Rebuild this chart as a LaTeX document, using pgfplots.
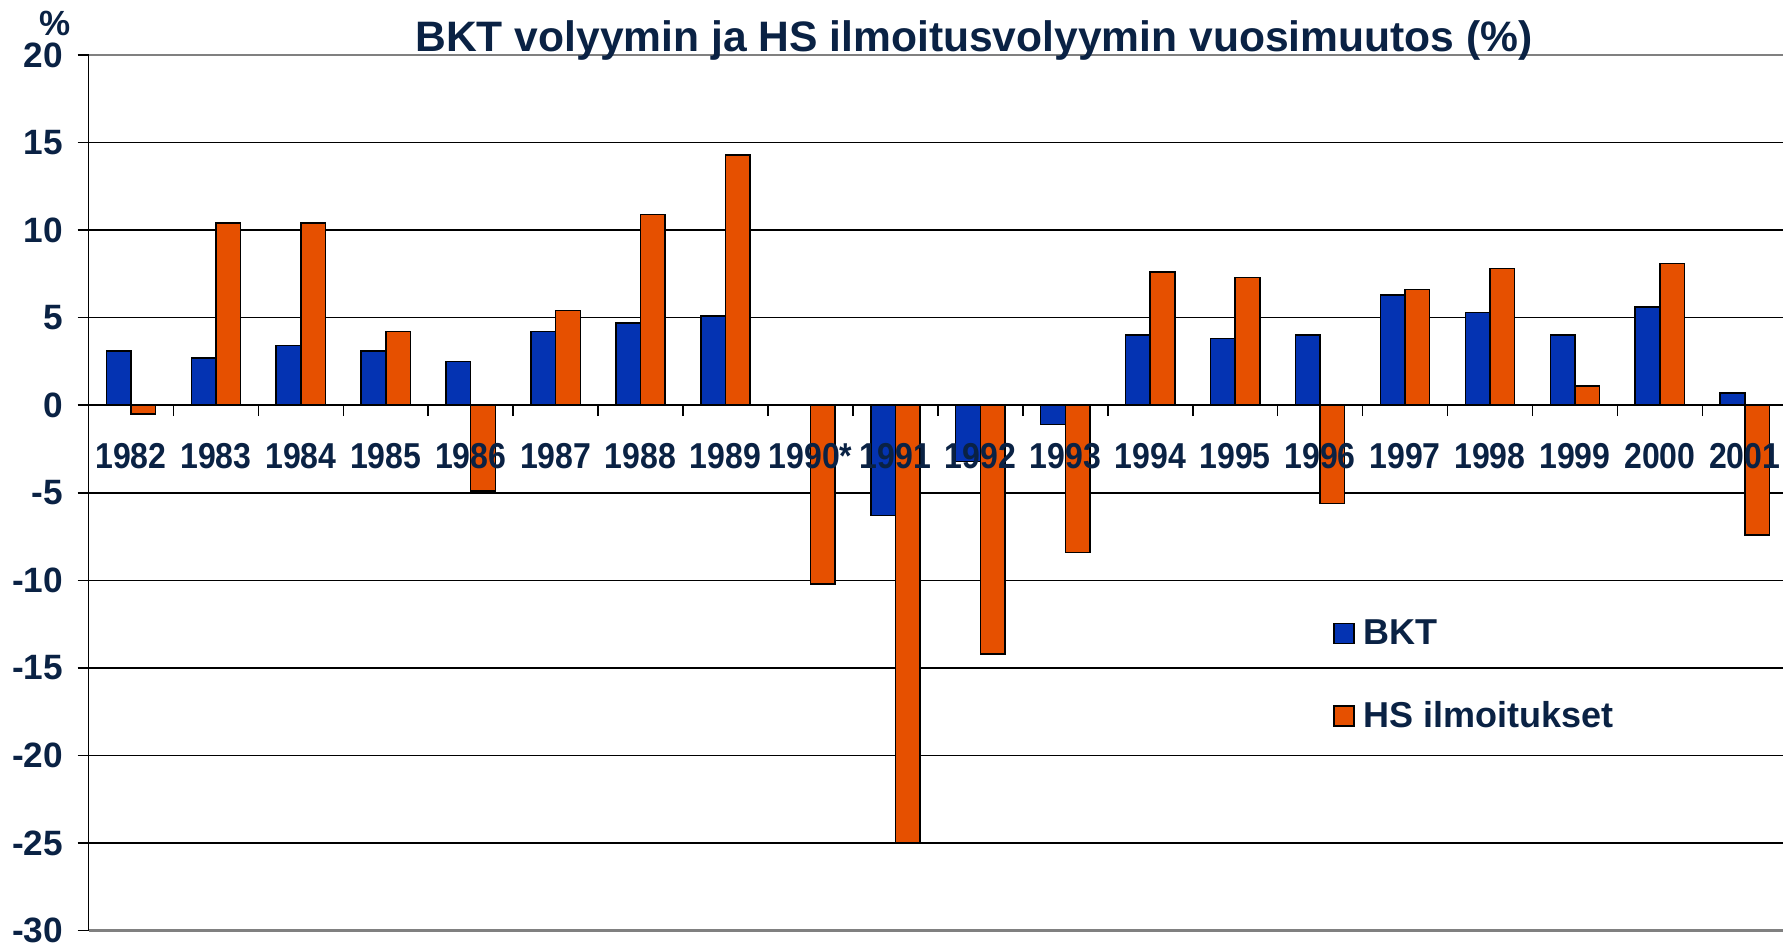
\documentclass[border=0pt]{standalone}
\usepackage{fontspec}
\setmainfont{Liberation Sans}
\usepackage{pgfplots}
\pgfplotsset{compat=1.18}
\definecolor{bktblue}{RGB}{4,51,178}
\definecolor{hsorange}{RGB}{230,80,0}
\definecolor{navy}{RGB}{10,34,68}
\pgfplotsset{sqlegend/.style={legend image code/.code={\draw[##1] (0pt,-5pt) rectangle (10pt,5pt);}}}
\pgfplotsset{
  common/.style={
    at={(44.25pt,9.2pt)}, anchor=south west,
    scale only axis, width=847.25pt, height=437.8pt,
    xmin=-0.5, xmax=19.45, ymin=-30, ymax=20,
  },
  catlabels/.style={
    xtick={0,...,19},
    xticklabels={1982,1983,1984,1985,1986,1987,1988,1989,1990*,1991,1992,1993,1994,1995,1996,1997,1998,1999,2000,2001},
    xticklabel style={anchor=center, yshift=-25.2pt, font=\fontsize{18}{18}\selectfont\bfseries, text=navy, xscale=0.89},
  },
}
\begin{document}
\begin{tikzpicture}
\path[use as bounding box] (0,0) rectangle (891.5pt,474.5pt);
\begin{axis}[
  common,
  axis y line*=left, axis x line*=middle,
  axis line style={black, line width=0.9pt},
  ybar=0pt, bar width=0.29,
  xtick={0,...,19},
  xticklabels={},
  major x tick style={draw=none},
  minor xtick={-0.5,0.5,...,19.5},
  minor tick length=5.5pt,
  major tick length=5.5pt,
  xtick align=outside, ytick align=outside,
  tick style={black, line width=0.8pt},
  ytick={-25,-20,...,15},
  extra y ticks={-30,20},
  extra y tick style={grid style={color=gray, line width=1.3pt}},
  ymajorgrids,
  grid style={black, line width=0.7pt},
  yticklabel style={inner ysep=0pt, xshift=-3.75pt, font=\fontsize{17.6}{17.6}\selectfont\bfseries, text=navy, /pgf/number format/assume math mode=true},
  title={BKT volyymin ja HS ilmoitusvolyymin vuosimuutos (\%)},
  title style={at={(0.5226,1)}, anchor=base, yshift=-4.5pt, font=\fontsize{21.3}{21.3}\selectfont\bfseries, text=navy},
  legend style={draw=none, fill=none, at={(0.7345,0.292)}, anchor=west, inner sep=0pt, outer sep=0pt,
    font=\fontsize{18}{18}\selectfont\bfseries, text=navy, row sep=27pt,
    nodes={inner sep=0pt}, column sep=4.5pt},
  legend cell align=left,
]
\addplot[fill=bktblue, draw=black, line width=0.75pt, sqlegend]
coordinates {(0,3.1) (1,2.7) (2,3.4) (3,3.1) (4,2.5) (5,4.2) (6,4.7) (7,5.1)
 (9,-6.3) (10,-3.2) (11,-1.1) (12,4.0) (13,3.8) (14,4.0) (15,6.3) (16,5.3) (17,4.0) (18,5.6) (19,0.7)};
\addlegendentry{BKT}
\addplot[fill=hsorange, draw=black, line width=0.75pt, sqlegend]
coordinates {(0,-0.5) (1,10.4) (2,10.4) (3,4.2) (4,-4.9) (5,5.4) (6,10.9) (7,14.3) (8,-10.2)
 (9,-25.0) (10,-14.2) (11,-8.4) (12,7.6) (13,7.3) (14,-5.6) (15,6.6) (16,7.8) (17,1.1) (18,8.1) (19,-7.4)};
\addlegendentry{HS ilmoitukset}
\end{axis}
\begin{axis}[
  common, catlabels,
  axis y line=none, axis x line*=middle,
  x axis line style={draw=none},
  major tick length=0pt, xtick align=outside,
  ytick=\empty,
]
\end{axis}
\node[font=\fontsize{17.5}{17.5}\selectfont\bfseries, text=navy] at (27.3pt,463pt) {\%};
\end{tikzpicture}
\end{document}
